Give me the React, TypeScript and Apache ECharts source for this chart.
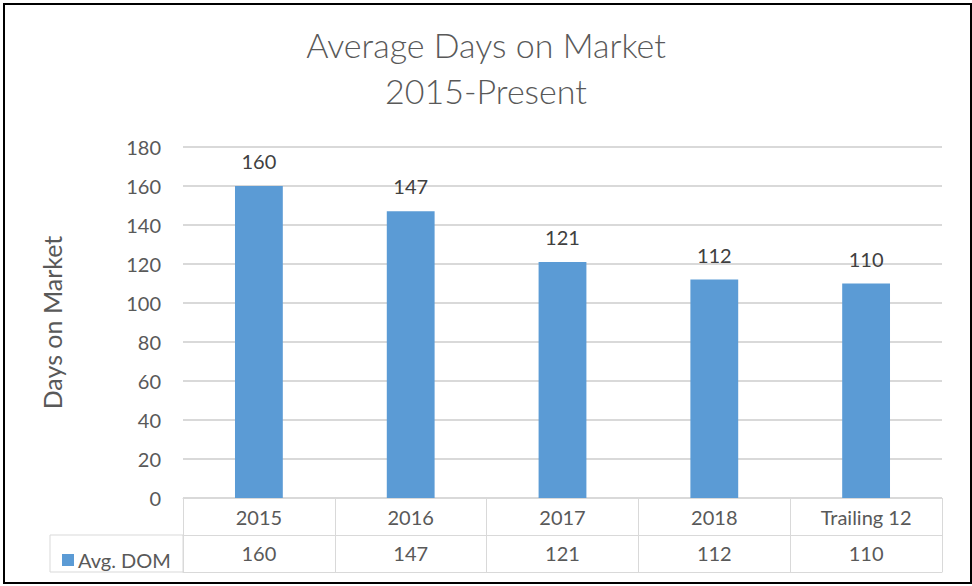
import React, { useEffect, useRef } from "react";
import * as echarts from "echarts";

const categories = ["2015", "2016", "2017", "2018", "Trailing 12"];
const avgDom = [160, 147, 121, 112, 110];
const seriesName = "Avg. DOM";
const titleLines = ["Average Days on Market", "2015-Present"];
const yAxisName = "Days on Market";

const TEXT = "#595959";
const GRID = "#d9d9d9";
const BAR = "#5b9bd5";
const FONT = "Lato, 'Open Sans', sans-serif";

export default function App() {
  const ref = useRef<HTMLDivElement>(null);
  useEffect(() => {
    document.body.style.margin = "0";
    const chart = echarts.init(ref.current!, null, { renderer: "svg" });
    const gridLeft = 183;
    const gridRight = 30;
    const option: any = {
      animation: false,
      textStyle: { fontFamily: FONT },
      title: {
        text: titleLines.join("\n"),
        left: "center",
        top: 21,
        padding: 0,
        textStyle: {
          fontFamily: FONT,
          fontSize: 34,
          fontWeight: 300,
          lineHeight: 46,
          color: TEXT,
        },
      },
      legend: {
        left: 57,
        top: 545,
        icon: "rect",
        itemWidth: 12,
        itemHeight: 12,
        itemGap: 4,
        textStyle: { fontFamily: FONT, fontSize: 20, color: TEXT, padding: [0, 0, 0, -1] },
        data: [seriesName],
      },
      grid: { left: gridLeft, right: gridRight, top: 147, bottom: 88 },
      xAxis: [
        {
          type: "category",
          data: categories,
          position: "bottom",
          axisLine: { show: true, lineStyle: { color: GRID, width: 1 } },
          axisTick: { show: true, length: 37, interval: 0, lineStyle: { color: GRID } },
          axisLabel: { interval: 0, fontSize: 20, color: TEXT, margin: 9, fontFamily: FONT },
        },
        {
          type: "category",
          data: avgDom.map((v) => String(v)),
          position: "bottom",
          offset: 37,
          axisLine: { show: true, lineStyle: { color: GRID, width: 1 } },
          axisTick: { show: true, length: 37, interval: 0, lineStyle: { color: GRID } },
          axisLabel: { interval: 0, fontSize: 20, color: TEXT, margin: 8, fontFamily: FONT },
        },
        {
          type: "category",
          data: categories,
          position: "bottom",
          offset: 74,
          axisLine: { show: true, lineStyle: { color: GRID, width: 1 } },
          axisTick: { show: false },
          axisLabel: { show: false },
        },
      ],
      yAxis: {
        type: "value",
        min: 0,
        max: 180,
        interval: 20,
        name: yAxisName,
        nameLocation: "middle",
        nameRotate: 90,
        nameGap: 119,
        nameTextStyle: { fontSize: 25, color: TEXT, fontFamily: FONT },
        axisLine: { show: false },
        axisTick: { show: false },
        axisLabel: { fontSize: 20, color: TEXT, margin: 22, fontFamily: FONT },
        splitLine: { lineStyle: { color: GRID, width: 2 } },
      },
      series: [
        {
          name: seriesName,
          type: "bar",
          data: avgDom,
          xAxisIndex: 0,
          barWidth: "31.5%",
          itemStyle: { color: BAR },
          label: {
            show: true,
            position: "top",
            distance: 15,
            fontSize: 20,
            color: "#404040",
            fontFamily: FONT,
          },
        },
      ],
      graphic: [
        {
          type: "rect",
          shape: { x: 50, y: 535, width: gridLeft - 50, height: 37 },
          style: { fill: "none", stroke: GRID, lineWidth: 1 },
          silent: true,
        },
        {
          type: "rect",
          shape: { x: 4, y: 4, width: 967, height: 579 },
          style: { fill: "none", stroke: "#000", lineWidth: 2 },
          silent: true,
        },
      ],
    };
    chart.setOption(option);
    return () => chart.dispose();
  }, []);
  return <div ref={ref} style={{ width: 972, height: 586 }} />;
}
